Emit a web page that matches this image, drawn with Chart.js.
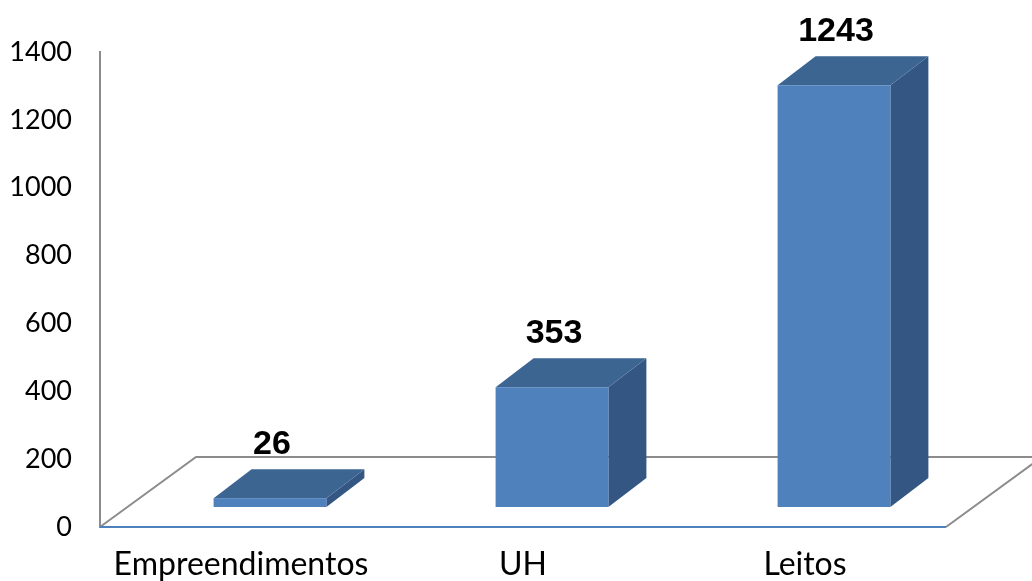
<!DOCTYPE html>
<html>
<head>
<meta charset="utf-8">
<script src="https://cdn.jsdelivr.net/npm/chart.js@4/dist/chart.umd.min.js"></script>
<style>
html,body{margin:0;padding:0;background:#fff;}
#wrap{width:1032px;height:581px;position:relative;}
</style>
</head>
<body>
<div id="wrap"><canvas id="c" width="1032" height="581"></canvas></div>
<script>
const categories = ["Empreendimentos", "UH", "Leitos"];
const values = [26, 353, 1243];
const yTicks = [0, 200, 400, 600, 800, 1000, 1200, 1400];

const FLOOR_DX = 96, FLOOR_DY = -70;
const BAR_OX = 29, BAR_OY = -20;
const BAR_DX = 38, BAR_DY = -29;

const threeD = {
  id: 'threeD',
  beforeDatasetsDraw(chart) {
    const {ctx, chartArea: a} = chart;
    ctx.save();
    ctx.lineWidth = 2;
    ctx.strokeStyle = '#8c8c8c';
    ctx.beginPath();
    ctx.moveTo(a.left, a.bottom);
    ctx.lineTo(a.left + FLOOR_DX, a.bottom + FLOOR_DY);
    ctx.lineTo(a.right + FLOOR_DX, a.bottom + FLOOR_DY);
    ctx.moveTo(a.right, a.bottom);
    ctx.lineTo(a.right + FLOOR_DX, a.bottom + FLOOR_DY);
    ctx.stroke();
    ctx.strokeStyle = '#4f81bd';
    ctx.beginPath();
    ctx.moveTo(a.left, a.bottom);
    ctx.lineTo(a.right, a.bottom);
    ctx.stroke();
    ctx.restore();
  },
  afterDatasetsDraw(chart) {
    const {ctx} = chart;
    const meta = chart.getDatasetMeta(0);
    ctx.save();
    meta.data.forEach((bar, i) => {
      const w = bar.width;
      const x0 = bar.x - w / 2 + BAR_OX, x1 = bar.x + w / 2 + BAR_OX;
      const yt = bar.y + BAR_OY, yb = bar.base + BAR_OY;
      ctx.fillStyle = '#335683';
      ctx.beginPath();
      ctx.moveTo(x1, yt); ctx.lineTo(x1 + BAR_DX, yt + BAR_DY);
      ctx.lineTo(x1 + BAR_DX, yb + BAR_DY); ctx.lineTo(x1, yb);
      ctx.closePath(); ctx.fill();
      ctx.fillStyle = '#3d6592';
      ctx.beginPath();
      ctx.moveTo(x0, yt); ctx.lineTo(x0 + BAR_DX, yt + BAR_DY);
      ctx.lineTo(x1 + BAR_DX, yt + BAR_DY); ctx.lineTo(x1, yt);
      ctx.closePath(); ctx.fill();
      ctx.fillStyle = '#4f81bd';
      ctx.fillRect(x0, yt, w, yb - yt);
      ctx.fillStyle = '#000';
      ctx.font = 'bold 34px "Liberation Sans", Arial, sans-serif';
      ctx.textAlign = 'center';
      ctx.textBaseline = 'alphabetic';
      ctx.fillText(String(values[i]), bar.x + BAR_OX + 2, yt + BAR_DY - 15);
    });
    ctx.restore();
  }
};

new Chart(document.getElementById('c'), {
  type: 'bar',
  data: {
    labels: categories,
    datasets: [{
      data: values,
      backgroundColor: 'rgba(0,0,0,0)',
      borderWidth: 0,
      barPercentage: 0.4,
      categoryPercentage: 1.0
    }]
  },
  options: {
    responsive: false,
    animation: false,
    layout: {padding: {top: 52, right: 86, left: 0, bottom: 0}},
    plugins: {legend: {display: false}, tooltip: {enabled: false}},
    scales: {
      x: {
        grid: {display: false},
        border: {display: false},
        ticks: {color: '#000', font: {family: 'Lato', size: 32}, padding: 10, maxRotation: 0},
        afterFit(s) { s.height = 54; }
      },
      y: {
        min: 0, max: 1400,
        afterBuildTicks(s) { s.ticks = yTicks.map(v => ({value: v})); },
        grid: {display: false},
        border: {display: true, color: '#8c8c8c', width: 2},
        ticks: {color: '#000', font: {family: 'Lato', size: 27}, padding: 20, callback: v => String(v)},
        afterFit(s) { s.width = 100; }
      }
    }
  },
  plugins: [threeD]
});
</script>
</body>
</html>
